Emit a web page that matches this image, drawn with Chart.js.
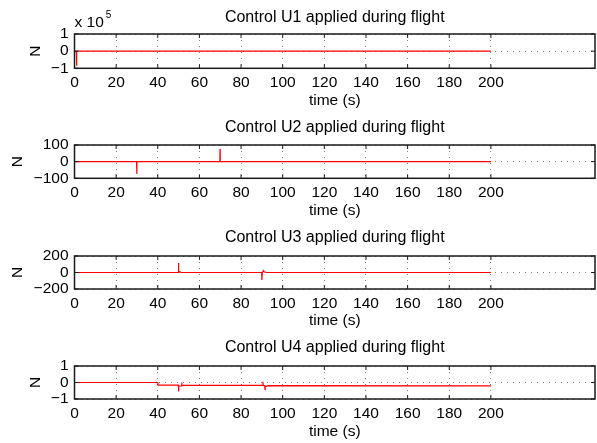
<!DOCTYPE html>
<html lang="en">
<head>
<meta charset="UTF-8">
<title>Controls applied during flight</title>
<script src="https://cdn.jsdelivr.net/npm/chart.js@4.4.1/dist/chart.umd.min.js"></script>
<style>
  body { margin: 0; background: #fff; }
  #wrap { position: relative; width: 597px; height: 443px; }
  #wrap canvas { position: absolute; left: 0; }
</style>
</head>
<body>
<div id="wrap">
  <canvas id="u1" width="597" height="110" style="top:0px"></canvas>
  <canvas id="u2" width="597" height="110" style="top:110px"></canvas>
  <canvas id="u3" width="597" height="110" style="top:220px"></canvas>
  <canvas id="u4" width="597" height="113" style="top:330px"></canvas>
</div>
<script>
// shared x axis: time (s)
const xTicks = [0, 20, 40, 60, 80, 100, 120, 140, 160, 180, 200];

// U1 (values in N, axis shown in units of 10^5)
const u1Time  = [0, 0.9, 1, 1.1, 200];
const u1Force = [0, 0, -85000, 0, 0];
const u1Ticks = [-100000, 0, 100000];

// U2
const u2Time  = [0, 29.8, 29.9, 30.0, 69.8, 69.9, 70.0, 200];
const u2Force = [0, 0, -74, 0, 0, 76, 0, 0];
const u2Ticks = [-100, 0, 100];

// U3
const u3Time  = [0, 49.8, 49.9, 50.1, 50.8, 51.2, 89.9, 90.0, 90.2, 90.8, 91.2, 92.5, 200];
const u3Force = [0, 0, 115, 8, 8, 0, 0, -92, 0, 22, 6, 0, 0];
const u3Ticks = [-200, 0, 200];

// U4
const u4Time  = [0, 40, 40.05, 49.9, 50.0, 50.1, 51.4, 51.5, 51.6, 52.5, 90.4, 90.5, 90.6, 91.4, 91.5, 91.6, 93, 200];
const u4Force = [0, 0, -0.16, -0.16, -0.55, -0.22, -0.2, 0.0, -0.17, -0.17, -0.17, 0.04, -0.17, -0.2, -0.42, -0.25, -0.19, -0.2];
const u4Ticks = [-1, 0, 1];

const FONT = 'Liberation Sans, Arial, Helvetica, sans-serif';
Chart.defaults.color = '#000';
Chart.defaults.font.family = FONT;

const fmt = v => String(v).replace('-', '\u2212');

// frame + inward tick marks, MATLAB style
const boxPlugin = {
  id: 'box',
  afterDatasetsDraw(chart) {
    const { ctx, chartArea: a, scales: { x, y } } = chart;
    ctx.save();
    ctx.strokeStyle = '#1a1a1a';
    ctx.lineWidth = 1;
    ctx.beginPath();
    x.ticks.forEach(t => {
      const px = x.getPixelForValue(t.value);
      ctx.moveTo(px, a.top); ctx.lineTo(px, a.top + 4);
      ctx.moveTo(px, a.bottom); ctx.lineTo(px, a.bottom - 4);
    });
    y.ticks.forEach(t => {
      const py = y.getPixelForValue(t.value);
      ctx.moveTo(a.left, py); ctx.lineTo(a.left + 4, py);
      ctx.moveTo(a.right, py); ctx.lineTo(a.right - 4, py);
    });
    ctx.stroke();
    ctx.lineWidth = 1.5;
    ctx.strokeRect(a.left, a.top, a.width, a.height);
    ctx.restore();
  }
};

// "x 10^5" multiplier above the first axis
const expPlugin = {
  id: 'exponent',
  afterDraw(chart, args, opts) {
    if (!opts.show) return;
    const { ctx, chartArea: a } = chart;
    ctx.save();
    ctx.fillStyle = '#000';
    ctx.textBaseline = 'alphabetic';
    ctx.font = '15.5px ' + FONT;
    ctx.fillText('x 10', a.left, 27.3);
    const w = ctx.measureText('x 10').width;
    ctx.font = '10px ' + FONT;
    ctx.fillText('5', a.left + w + 2, 18);
    ctx.restore();
  }
};

function makePanel(id, title, time, force, yTicks, div, opt) {
  const H = document.getElementById(id).height;
  const pts = time.map((t, i) => ({ x: t, y: force[i] }));
  return new Chart(document.getElementById(id), {
    type: 'line',
    data: {
      datasets: [{
        data: pts,
        borderColor: '#ff0000',
        borderWidth: 1.2,
        pointRadius: 0,
        tension: 0,
        fill: false
      }]
    },
    options: {
      responsive: false,
      animation: false,
      layout: { padding: { left: opt.padLeft, right: 2, top: 0, bottom: 0 } },
      plugins: {
        legend: { display: false },
        tooltip: { enabled: false },
        title: {
          display: true,
          text: title,
          fullSize: false,
          color: '#000',
          font: { size: 16, weight: 'normal' },
          padding: { top: 8, bottom: opt.titleGap }
        },
        exponent: { show: !!opt.exponent }
      },
      scales: {
        x: {
          type: 'linear',
          min: 0,
          max: 250,
          afterBuildTicks: s => { s.ticks = xTicks.map(v => ({ value: v })); },
          afterFit: s => { s.height = H - opt.bottom; },
          ticks: { padding: 5, autoSkip: false, maxRotation: 0, font: { size: 15.5 }, color: '#000' },
          grid: { color: 'rgba(0,0,0,0.5)', lineWidth: 1, drawTicks: false },
          border: { display: false, dash: [1, 5] },
          title: { display: true, text: 'time (s)', color: '#000', font: { size: 15.5 }, padding: { top: 0, bottom: opt.xTitlePad } }
        },
        y: {
          min: yTicks[0],
          max: yTicks[yTicks.length - 1],
          afterBuildTicks: s => { s.ticks = yTicks.map(v => ({ value: v })); },
          afterFit: s => { s.width = 74.5 - opt.padLeft; },
          ticks: { padding: 6, autoSkip: false, font: { size: 15.5 }, color: '#000', callback: v => fmt(v / div) },
          grid: { color: 'rgba(0,0,0,0.5)', lineWidth: 1, drawTicks: false },
          border: { display: false, dash: [1, 5] },
          title: { display: true, text: 'N', color: '#000', font: { size: 15.5 }, padding: 0 }
        }
      }
    },
    plugins: [boxPlugin, expPlugin]
  });
}

makePanel('u1', 'Control U1 applied during flight', u1Time, u1Force, u1Ticks, 100000,
  { padLeft: 26.5, titleGap: 6.8, bottom: 68.3, xTitlePad: 0, exponent: true });
makePanel('u2', 'Control U2 applied during flight', u2Time, u2Force, u2Ticks, 1,
  { padLeft: 8.2, titleGap: 7.8, bottom: 68.3, xTitlePad: 0 });
makePanel('u3', 'Control U3 applied during flight', u3Time, u3Force, u3Ticks, 1,
  { padLeft: 8.2, titleGap: 8.8, bottom: 69, xTitlePad: 0 });
makePanel('u4', 'Control U4 applied during flight', u4Time, u4Force, u4Ticks, 1,
  { padLeft: 26.5, titleGap: 8.8, bottom: 69, xTitlePad: 2.2 });
</script>
</body>
</html>
